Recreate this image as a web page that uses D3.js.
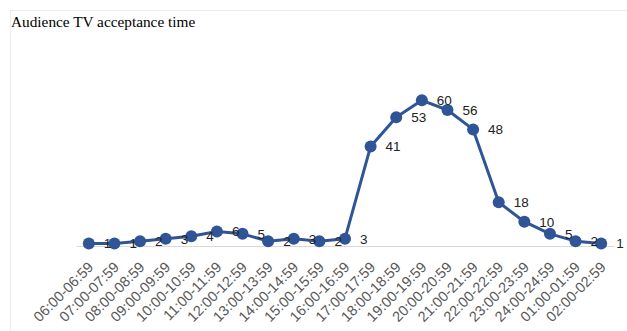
<!DOCTYPE html>
<html>
<head>
<meta charset="utf-8">
<script src="https://cdn.jsdelivr.net/npm/d3@7"></script>
<style>
  body { margin: 0; background: #fff; }
  svg { display: block; }
</style>
</head>
<body>
<svg width="627" height="331"></svg>
<script>
    // time slots and audience values
    const slots = ['06:00-06:59', '07:00-07:59', '08:00-08:59', '09:00-09:59', '10:00-10:59',
      '11:00-11:59', '12:00-12:59', '13:00-13:59', '14:00-14:59', '15:00-15:59', '16:00-16:59',
      '17:00-17:59', '18:00-18:59', '19:00-19:59', '20:00-20:59', '21:00-21:59', '22:00-22:59',
      '23:00-23:59', '24:00-24:59', '01:00-01:59', '02:00-02:59'];
    const audience = [1, 1, 2, 3, 4, 6, 5, 2, 3, 2, 3, 41, 53, 60, 56, 48, 18, 10, 5, 2, 1];
    const yDomain = [0, 70];

    const svg = d3.select('svg');
    const plot = { left: 76, right: 614, top: 76, bottom: 246 };
    const blue = '#2f5597';

    // light frame around chart
    svg.append('rect')
      .attr('x', 10.5)
      .attr('y', 10.5)
      .attr('width', 630)
      .attr('height', 330)
      .attr('fill', 'none')
      .attr('stroke', '#ededed');

    svg.append('text')
      .attr('x', 11)
      .attr('y', 27)
      .style('font-family', '"Liberation Serif", "Times New Roman", serif')
      .style('font-size', '15.3px')
      .attr('fill', '#000')
      .text('Audience TV acceptance time');

    // scales
    const xScale = d3.scalePoint()
      .domain(slots)
      .range([plot.left, plot.right])
      .padding(0.5);
    const yScale = d3.scaleLinear()
      .domain(yDomain)
      .range([plot.bottom, plot.top]);

    // x axis
    const xAxis = d3.axisBottom(xScale).tickSize(0).tickSizeOuter(0).tickPadding(0);
    const gX = svg.append('g')
      .attr('transform', 'translate(0,' + plot.bottom + ')')
      .call(xAxis);
    gX.select('.domain').attr('stroke', '#d9d9d9').attr('stroke-width', 1);
    gX.selectAll('.tick text')
      .attr('text-anchor', 'end')
      .attr('dy', 0)
      .attr('x', 0)
      .attr('y', 0)
      .attr('transform', 'translate(5,22) rotate(-45)')
      .attr('fill', '#595959')
      .style('font-family', '"Liberation Sans", Arial, sans-serif')
      .style('font-size', '14.5px');

    // line
    const line = d3.line()
      .x(function(d, i) { return xScale(slots[i]); })
      .y(function(d) { return yScale(d); });
    svg.append('path')
      .datum(audience)
      .attr('d', line)
      .attr('fill', 'none')
      .attr('stroke', blue)
      .attr('stroke-width', 3)
      .attr('stroke-linejoin', 'round');

    // markers
    svg.selectAll('circle.pt')
      .data(audience)
      .enter().append('circle')
      .attr('class', 'pt')
      .attr('cx', function(d, i) { return xScale(slots[i]); })
      .attr('cy', function(d) { return yScale(d); })
      .attr('r', 6)
      .attr('fill', blue);

    // data labels to the right
    svg.selectAll('text.lbl')
      .data(audience)
      .enter().append('text')
      .attr('class', 'lbl')
      .attr('x', function(d, i) { return xScale(slots[i]) + 15; })
      .attr('y', function(d) { return yScale(d); })
      .attr('dy', '0.36em')
      .attr('fill', '#222')
      .style('font-family', '"Liberation Sans", Arial, sans-serif')
      .style('font-size', '13.5px')
      .text(function(d) { return d; });
</script>
</body>
</html>
